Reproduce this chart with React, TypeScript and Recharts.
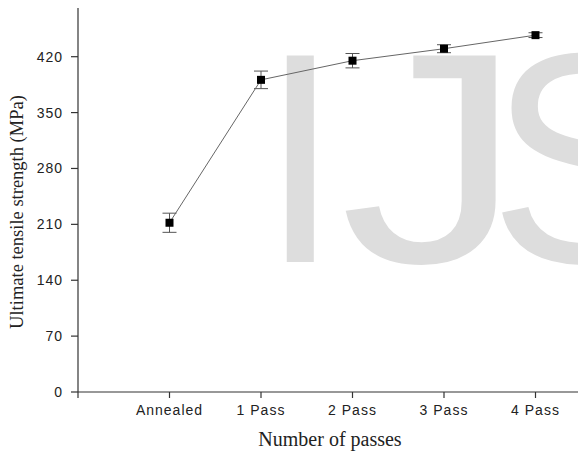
import React from 'react';
import { LineChart, Line, XAxis, YAxis, ErrorBar } from 'recharts';

const categories = ['Annealed', '1 Pass', '2 Pass', '3 Pass', '4 Pass'];
const uts = [212, 391, 415, 430, 447];
const utsError = [12, 11, 9, 5, 3];
const yTicks = [0, 70, 140, 210, 280, 350, 420];
const xTicks = [0, 1, 2, 3, 4, 5];

const data = categories.map((c, i) => ({ x: i + 1, name: c, uts: uts[i], err: utsError[i] }));

const SquareDot = (props: any) => {
  const { cx, cy } = props;
  if (cx == null || cy == null) return null;
  return <rect x={cx - 4} y={cy - 4} width={8} height={8} fill="#000" />;
};

const serif = "'Liberation Serif', 'Times New Roman', serif";
const sans = "'Liberation Sans', Arial, sans-serif";

const YLabel = () => {
  const cx = 17;
  const cy = 212;
  return (
    <text
      x={cx}
      y={cy}
      transform={`rotate(-90 ${cx} ${cy})`}
      textAnchor="middle"
      dominantBaseline="central"
      fontFamily={serif}
      fontSize={18.5}
      fill="#222"
    >
      Ultimate tensile strength (MPa)
    </text>
  );
};

const XLabel = () => (
  <text x={330} y={446} textAnchor="middle" fontFamily={serif} fontSize={20} fill="#222">
    Number of passes
  </text>
);

const tickStyle = { fontFamily: sans, fontSize: 14, fill: '#222', letterSpacing: 1 };

export default function App() {
  return (
    <div style={{ position: 'absolute', left: 0, top: 0, width: 578, height: 452, overflow: 'hidden', background: '#fff' }}>
      <svg width={578} height={452} style={{ position: 'absolute', left: 0, top: 0 }}>
        <g
          fontSize={290}
          fontFamily={sans}
          fill="#dddddd"
          transform="translate(0,262) scale(1,1.035) translate(0,-262)"
        >
          <text x={260} y={262}>I</text>
          <text x={0} y={262} transform="translate(340,0) scale(1.26,1)">J</text>
          <text x={489} y={262}>S</text>
        </g>
      </svg>
      <LineChart width={640} height={452} data={data} margin={{ top: 8, right: 13, bottom: 0, left: 0 }}>
        <XAxis
          xAxisId="top"
          orientation="top"
          type="number"
          dataKey="x"
          domain={[0, 6]}
          height={0}
          tick={false}
          tickLine={false}
          axisLine={{ stroke: '#333', strokeWidth: 1.2 }}
        />
        <XAxis
          type="number"
          dataKey="x"
          domain={[0, 6]}
          ticks={xTicks}
          height={60}
          tickSize={6}
          tickMargin={7}
          tickFormatter={(v: number) => categories[v - 1] ?? ''}
          tick={tickStyle}
          axisLine={{ stroke: '#333', strokeWidth: 1.2 }}
          tickLine={{ stroke: '#333', strokeWidth: 1.2 }}
          label={<XLabel />}
        />
        <YAxis
          type="number"
          domain={[0, 481]}
          ticks={yTicks}
          width={78}
          tickSize={7}
          tickMargin={8}
          tick={tickStyle}
          axisLine={{ stroke: '#333', strokeWidth: 1.2 }}
          tickLine={{ stroke: '#333', strokeWidth: 1.2 }}
          label={<YLabel />}
        />
        <Line
          type="linear"
          dataKey="uts"
          stroke="#666"
          strokeWidth={1}
          dot={<SquareDot />}
          activeDot={false}
          isAnimationActive={false}
        >
          <ErrorBar dataKey="err" width={7} stroke="#555" strokeWidth={1} direction="y" />
        </Line>
      </LineChart>
    </div>
  );
}
